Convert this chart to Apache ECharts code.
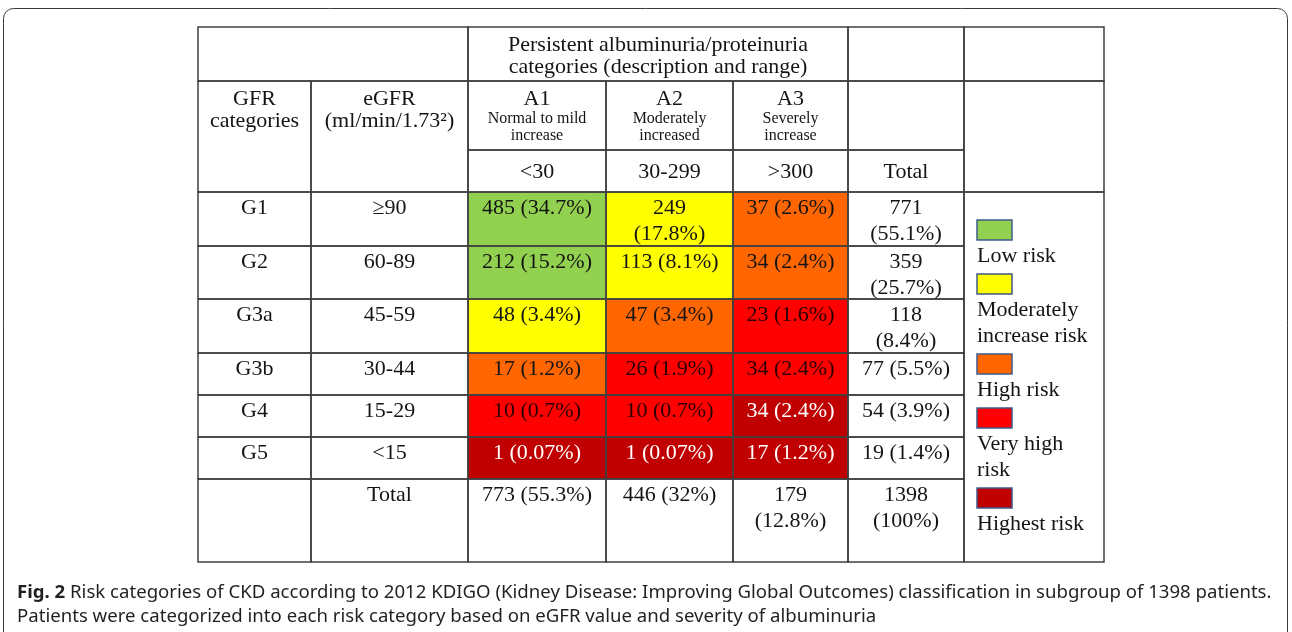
<!DOCTYPE html>
<html>
<head>
<meta charset="utf-8">
<script src="https://cdn.jsdelivr.net/npm/echarts@6/dist/echarts.min.js"></script>
<style>
  html, body { margin: 0; padding: 0; background: #fff; }
  #chart { width: 1292px; height: 632px; }
</style>
</head>
<body>
<div id="chart"></div>
<script>
const gfrCats = ['G1', 'G2', 'G3a', 'G3b', 'G4', 'G5'];
const egfrRanges = ['≥90', '60-89', '45-59', '30-44', '15-29', '<15'];
const albCats = ['A1', 'A2', 'A3'];
const albDesc = [['Normal to mild', 'increase'], ['Moderately', 'increased'], ['Severely', 'increase']];
const albRanges = ['<30', '30-299', '>300'];
const countsA1 = [485, 212, 48, 17, 10, 1];
const countsA2 = [249, 113, 47, 26, 10, 1];
const countsA3 = [37, 34, 23, 34, 34, 17];
const pctA1 = ['34.7', '15.2', '3.4', '1.2', '0.7', '0.07'];
const pctA2 = ['17.8', '8.1', '3.4', '1.9', '0.7', '0.07'];
const pctA3 = ['2.6', '2.4', '1.6', '2.4', '2.4', '1.2'];
const riskA1 = [0, 0, 1, 2, 3, 4];
const riskA2 = [1, 1, 2, 3, 3, 4];
const riskA3 = [2, 2, 3, 3, 4, 4];
const rowTotals = [771, 359, 118, 77, 54, 19];
const rowPct = ['55.1', '25.7', '8.4', '5.5', '3.9', '1.4'];
const colTotals = [773, 446, 179];
const colPct = ['55.3', '32', '12.8'];
const grandTotal = 1398;
const grandPct = '100';
const riskLabels = ['Low risk', 'Moderately increase risk', 'High risk', 'Very high risk', 'Highest risk'];

const headTitle = ['Persistent albuminuria/proteinuria', 'categories (description and range)'];
const gfrTitle = ['GFR', 'categories'];
const egfrTitle = ['eGFR', '(ml/min/1.73²)'];
const caption1 = 'Risk categories of CKD according to 2012 KDIGO (Kidney Disease: Improving Global Outcomes) classification in subgroup of 1398 patients.';
const caption2 = 'Patients were categorized into each risk category based on eGFR value and severity of albuminuria';

// ---- layout / style ----
const riskColors = ['#92d050', '#ffff00', '#ff6600', '#ff0000', '#c00000'];
const riskText = ['#141414', '#141414', '#141414', '#2a0000', '#ffffff'];
const X = [0, 113, 270, 408, 535, 650, 766, 906];          // column edges (table units)
const R = [165, 219, 272, 326, 368, 410, 452, 535];         // body + total row edges
const SERIF = '"Liberation Serif", "Times New Roman", serif';
const F22 = '22px ' + SERIF;
const PAD = 11;
const LINE = '#404040';

const ctx = document.createElement('canvas').getContext('2d');
function wrap(text, font, maxW) {
  ctx.font = font;
  const lines = [];
  let cur = '';
  text.split(' ').forEach(w => {
    const t = cur ? cur + ' ' + w : w;
    if (cur && ctx.measureText(t).width > maxW) { lines.push(cur); cur = w; }
    else cur = t;
  });
  lines.push(cur);
  return lines.join('\n');
}
const fmt = (n, p) => n + ' (' + p + '%)';

// plain (uncoloured) cells
const plain = [];
plain.push({ c0: 0, c1: 2, y0: 0, y1: 54, text: '' });
plain.push({ c0: 2, c1: 5, y0: 0, y1: 54, text: headTitle.join('\n'), head: true });
plain.push({ c0: 5, c1: 6, y0: 0, y1: 54, text: '' });
plain.push({ c0: 6, c1: 7, y0: 0, y1: 54, text: '' });
plain.push({ c0: 0, c1: 1, y0: 54, y1: 165, text: gfrTitle.join('\n'), head: true });
plain.push({ c0: 1, c1: 2, y0: 54, y1: 165, text: egfrTitle.join('\n'), head: true });
albCats.forEach((a, c) => {
  plain.push({ c0: 2 + c, c1: 3 + c, y0: 54, y1: 123,
    text: '{a|' + a + '}\n' + albDesc[c].map(d => '{d|' + d + '}').join('\n'), head: true, rich: true });
  plain.push({ c0: 2 + c, c1: 3 + c, y0: 123, y1: 165, text: albRanges[c], mid: true });
});
plain.push({ c0: 5, c1: 6, y0: 54, y1: 123, text: '' });
plain.push({ c0: 5, c1: 6, y0: 123, y1: 165, text: 'Total', mid: true });
plain.push({ c0: 6, c1: 7, y0: 54, y1: 165, text: '' });
gfrCats.forEach((g, i) => {
  plain.push({ c0: 0, c1: 1, y0: R[i], y1: R[i + 1], text: g });
  plain.push({ c0: 1, c1: 2, y0: R[i], y1: R[i + 1], text: egfrRanges[i] });
  plain.push({ c0: 5, c1: 6, y0: R[i], y1: R[i + 1], text: fmt(rowTotals[i], rowPct[i]) });
});
plain.push({ c0: 6, c1: 7, y0: R[0], y1: R[7], text: '' });
plain.push({ c0: 0, c1: 1, y0: R[6], y1: R[7], text: '' });
plain.push({ c0: 1, c1: 2, y0: R[6], y1: R[7], text: 'Total' });
colTotals.forEach((t, c) => {
  plain.push({ c0: 2 + c, c1: 3 + c, y0: R[6], y1: R[7], text: fmt(t, colPct[c]) });
});
plain.push({ c0: 5, c1: 6, y0: R[6], y1: R[7], text: fmt(grandTotal, grandPct) });

// coloured risk cells: [col, row, count, pct, risk]
const riskData = [];
[[countsA1, pctA1, riskA1], [countsA2, pctA2, riskA2], [countsA3, pctA3, riskA3]].forEach(([cnt, pct, rk], c) => {
  cnt.forEach((v, r) => riskData.push([c, r, v, pct[r], rk[r]]));
});

function cellGroup(api, c0, c1, y0, y1, fill, text, color, opts) {
  const p0 = api.coord([X[c0], y0]);
  const p1 = api.coord([X[c1], y1]);
  const w = p1[0] - p0[0], h = p1[1] - p0[1];
  const children = [
    { type: 'rect', z2: 0, shape: { x: p0[0], y: p0[1], width: w, height: h }, style: { fill: fill, stroke: null } },
    { type: 'rect', z2: 5, shape: { x: p0[0], y: p0[1], width: w, height: h }, style: { fill: null, stroke: LINE, lineWidth: 1.5 } }
  ];
  if (text) {
    const o = opts || {};
    let txt = o.head || o.rich ? text : wrap(text, F22, w - 2 * PAD);
    let y = p0[1] + (o.head ? 7 : 3), va = 'top';
    if (o.mid) { y = p0[1] + h / 2 + 1; va = 'middle'; }
    const style = {
      text: txt, x: p0[0] + w / 2, y: y, align: 'center', verticalAlign: va,
      font: F22, lineHeight: o.head ? 22 : 26, fill: color
    };
    if (o.rich) {
      style.rich = {
        a: { fontSize: 22, fontFamily: SERIF, lineHeight: 22, fill: color },
        d: { fontSize: 16, fontFamily: SERIF, lineHeight: 17, fill: color }
      };
    }
    children.push({ type: 'text', z2: 10, style: style });
  }
  return { type: 'group', children: children };
}

// legend flow inside the last column
const legendItems = riskLabels.map(l => wrap(l, F22, 114));
const legendTops = [];
let ly = 193;
legendItems.forEach(t => {
  legendTops.push(ly);
  ly += 20 + 3 + 26 * t.split('\n').length + 5;
});

const chart = echarts.init(document.getElementById('chart'));

const option = {
  animation: false,
  backgroundColor: '#fff',
  title: {
    left: 12, top: 576,
    text: '{b|Fig. 2} ' + caption1 + '\n' + caption2,
    textStyle: {
      fontFamily: '"Noto Sans", sans-serif',
      fontSize: 18.6, fontWeight: 'normal', lineHeight: 24, color: '#231f20',
      rich: { b: { fontFamily: '"Noto Sans", sans-serif', fontSize: 18.6, fontWeight: 'bold', color: '#231f20' } }
    }
  },
  graphic: [{
    type: 'rect', silent: true,
    shape: { x: 3.5, y: 8.5, width: 1284, height: 660, r: 10 },
    style: { fill: null, stroke: '#3a3a3a', lineWidth: 1 }
  }],
  grid: { left: 198, top: 27, width: 906, height: 535 },
  xAxis: { type: 'value', min: 0, max: 906, show: false },
  yAxis: { type: 'value', min: 0, max: 535, inverse: true, show: false },
  series: [
    {
      name: 'table', type: 'custom', coordinateSystem: 'cartesian2d',
      data: plain.map((p, i) => [X[p.c0], p.y0, i]),
      renderItem: (params, api) => {
        const p = plain[params.dataIndex];
        return cellGroup(api, p.c0, p.c1, p.y0, p.y1, '#fff', p.text, '#141414', p);
      }
    },
    {
      name: 'risk', type: 'custom', coordinateSystem: 'cartesian2d',
      data: riskData,
      encode: { x: 0, y: 1 },
      renderItem: (params, api) => {
        const c = api.value(0), r = api.value(1), rk = api.value(4);
        const d = riskData[params.dataIndex];
        return cellGroup(api, 2 + c, 3 + c, R[r], R[r + 1], riskColors[rk], fmt(d[2], d[3]), riskText[rk]);
      }
    },
    {
      name: 'legend', type: 'custom', coordinateSystem: 'cartesian2d',
      data: riskLabels.map((l, i) => [X[6], legendTops[i], i]),
      renderItem: (params, api) => {
        const i = params.dataIndex;
        const p = api.coord([X[6] + 13, legendTops[i]]);
        return {
          type: 'group', children: [
            { type: 'rect', z2: 20, shape: { x: p[0], y: p[1], width: 35, height: 20 },
              style: { fill: riskColors[i], stroke: '#3f5a8a', lineWidth: 1.5 } },
            { type: 'text', z2: 20, style: { text: legendItems[i], x: p[0], y: p[1] + 23, align: 'left', verticalAlign: 'top',
              font: F22, lineHeight: 26, fill: '#141414' } }
          ]
        };
      }
    }
  ]
};
chart.setOption(option);
</script>
</body>
</html>
